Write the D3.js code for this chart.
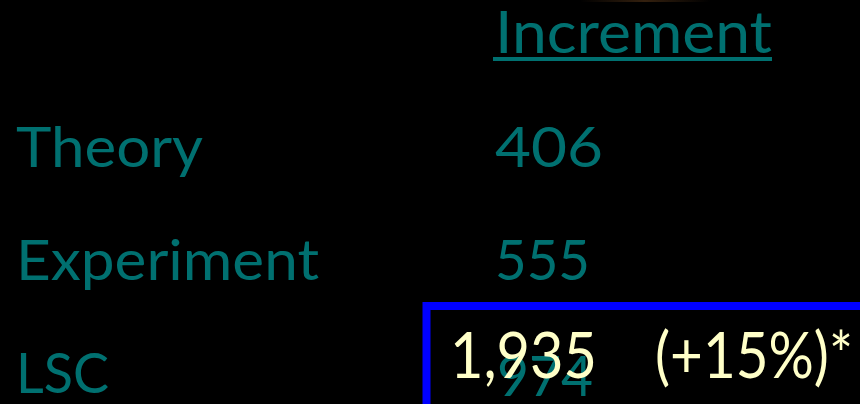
<!DOCTYPE html>
<html lang="en">
<head>
<meta charset="utf-8">
<script src="https://cdn.jsdelivr.net/npm/d3@7"></script>
<style>
  html, body { margin: 0; padding: 0; background: #000; }
  svg { display: block; }
  text { font-family: Lato, "Open Sans", sans-serif; }
</style>
</head>
<body>
<div id="svg"></div>

<script>
    // table contents
    var categories = ["Theory", "Experiment", "LSC"];
    var increments = [406, 555, 974];
    var header = "Increment";
    var revised = "1,935";
    var revisedNote = "(+15%)*";

    var width = 860, height = 404;
    var teal = "#007070", cream = "#ffffc8";

    var svg = d3.select("#svg").append("svg")
        .attr("width", width)
        .attr("height", height);

    svg.append("rect")
        .attr("width", width).attr("height", height)
        .attr("fill", "#000");

    // faint brownish smear at the very top
    var grad = svg.append("defs").append("linearGradient")
        .attr("id", "smear");
    grad.append("stop").attr("offset", "0%").attr("stop-color", "#3a2410").attr("stop-opacity", 0);
    grad.append("stop").attr("offset", "50%").attr("stop-color", "#3a2410").attr("stop-opacity", 0.9);
    grad.append("stop").attr("offset", "100%").attr("stop-color", "#3a2410").attr("stop-opacity", 0);
    svg.append("rect")
        .attr("x", 580).attr("y", 0).attr("width", 130).attr("height", 2)
        .attr("fill", "url(#smear)");

    // row baselines
    var y = d3.scalePoint()
        .domain(categories)
        .range([167, 393]);

    var labelX = 16, valueX = 495;
    var fontSize = 56;

    var labelWidth = {Theory: 187, Experiment: 303, LSC: 93};
    var valueWidth = {406: 108, 555: 95, 974: 96};

    // header
    svg.append("text")
        .attr("x", valueX)
        .attr("y", 53)
        .attr("fill", teal)
        .style("font-size", "58px")
        .attr("textLength", 277)
        .attr("lengthAdjust", "spacingAndGlyphs")
        .text(header);

    svg.append("rect")
        .attr("x", valueX - 2).attr("y", 57)
        .attr("width", 279).attr("height", 4)
        .attr("fill", teal);

    // category labels
    svg.selectAll("text.label")
        .data(categories)
    .enter().append("text")
        .attr("class", "label")
        .attr("x", labelX)
        .attr("y", function(d){ return y(d); })
        .attr("fill", teal)
        .style("font-size", fontSize + "px")
        .attr("textLength", function(d){ return labelWidth[d]; })
        .attr("lengthAdjust", "spacingAndGlyphs")
        .text(function(d){ return d; });

    // increments
    svg.selectAll("text.value")
        .data(increments)
    .enter().append("text")
        .attr("class", "value")
        .attr("x", function(d){ return valueX + (d === 974 ? 2 : 0); })
        .attr("y", function(d, i){ return y(categories[i]) + (i === 2 ? 3 : 0); })
        .attr("fill", teal)
        .style("font-size", fontSize + "px")
        .attr("textLength", function(d){ return valueWidth[d]; })
        .attr("lengthAdjust", "spacingAndGlyphs")
        .text(function(d){ return d; });

    // highlight box over the LSC row
    svg.append("rect")
        .attr("x", 426.5).attr("y", 306)
        .attr("width", 460).attr("height", 120)
        .attr("fill", "none")
        .attr("stroke", "#0000ff")
        .attr("stroke-width", 8);

    svg.append("text")
        .attr("x", 450)
        .attr("y", 378)
        .attr("fill", cream)
        .style("font-size", "63px")
        .attr("textLength", 147)
        .attr("lengthAdjust", "spacingAndGlyphs")
        .text(revised);

    svg.append("text")
        .attr("x", 655)
        .attr("y", 378)
        .attr("fill", cream)
        .style("font-size", "63px")
        .attr("textLength", 198)
        .attr("lengthAdjust", "spacingAndGlyphs")
        .text(revisedNote);
</script>
</body>
</html>
